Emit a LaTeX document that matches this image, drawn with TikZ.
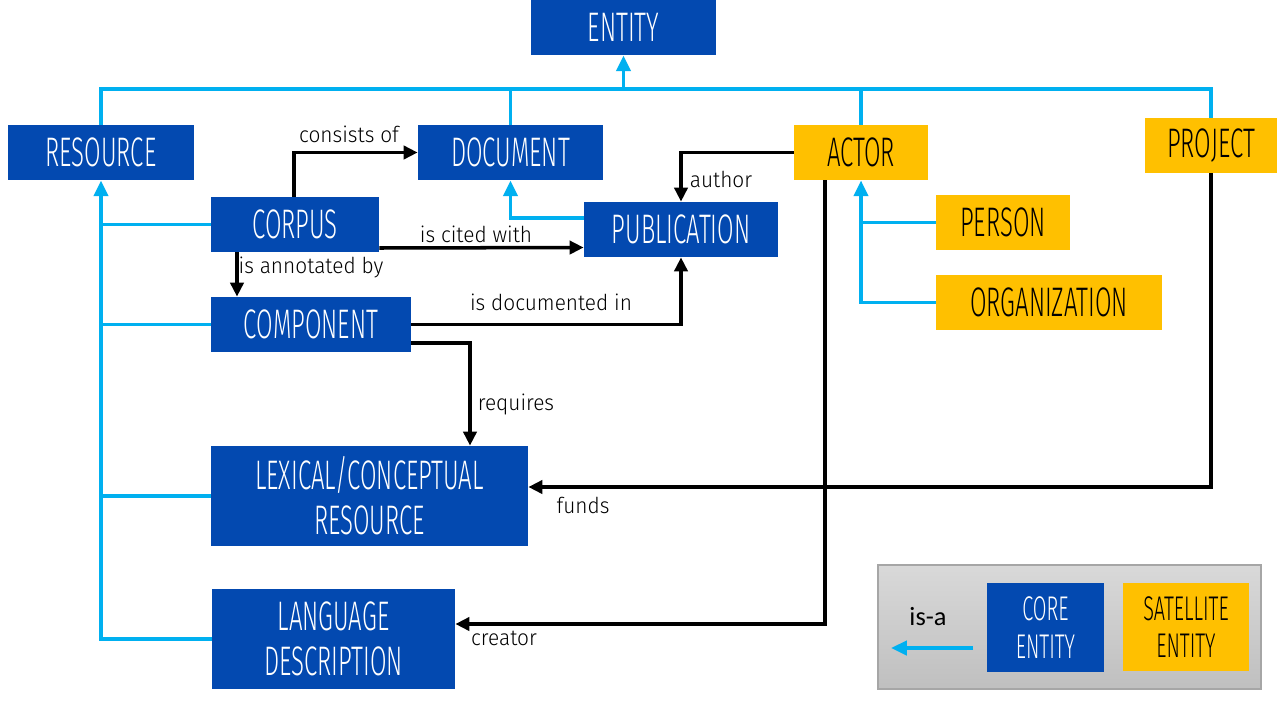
\documentclass[tikz,border=0pt]{standalone}
\usepackage{fontspec}
\setmainfont{Liberation Sans}
\newfontfamily\boxfont[FakeStretch=0.58]{Fira Sans Light}
\newfontfamily\lblfont[FakeStretch=0.95]{Fira Sans Light}
\newfontfamily\legfont{Carlito}
\usetikzlibrary{arrows.meta,calc}
\definecolor{coreblue}{RGB}{3,73,176}
\definecolor{satgold}{RGB}{255,192,0}
\definecolor{isablue}{RGB}{0,176,240}
\tikzset{
  sz/.style 2 args={minimum width=#1*0.02cm, minimum height=#2*0.02cm},
  ent/.style={rectangle, inner sep=0pt, align=center, font=\boxfont\fontsize{23.5}{25.5}\selectfont},
  core/.style={ent, fill=coreblue, text=white},
  sat/.style={ent, fill=satgold, text=black},
  rel/.style={line width=2pt, black, -{Triangle[length=8pt,width=7.5pt]}},
  relline/.style={line width=2pt, black},
  isa/.style={line width=2.2pt, isablue, -{Triangle[length=9pt,width=8pt]}},
  isaline/.style={line width=2.2pt, isablue},
  lbl/.style={anchor=base, inner sep=0pt, font=\lblfont\fontsize{12.5}{14}\selectfont},
}
\begin{document}
\begin{tikzpicture}[x=0.02cm, y=-0.02cm]
\useasboundingbox (0,0) rectangle (1280,720);
\fill[white] (0,0) rectangle (1280,720);

% nodes
\node[core, sz={185}{55}] (entity) at (623.5,27.5) {ENTITY};
\node[core, sz={186}{55}] (resource) at (101,152.5) {RESOURCE};
\node[core, sz={185}{55}] (document) at (510.5,152.5) {DOCUMENT};
\node[sat, sz={134}{55}] (actor) at (861,152.5) {ACTOR};
\node[sat, sz={132}{55}] (project) at (1211,145.5) {PROJECT};
\node[core, sz={168}{55}] (corpus) at (295,224.5) {CORPUS};
\node[core, sz={194}{55}] (publication) at (681,229.5) {PUBLICATION};
\node[sat, sz={134}{55}] (person) at (1003,222.5) {PERSON};
\node[sat, sz={226}{55}] (organization) at (1049,302.5) {ORGANIZATION};
\node[core, sz={200}{55}] (component) at (311,324.5) {COMPONENT};
\node[core, sz={317}{100}] (lexical) at (369.5,496) {LEXICAL/CONCEPTUAL\\RESOURCE};
\node[core, sz={243}{100}] (language) at (333.5,639) {LANGUAGE\\DESCRIPTION};

% is-a hierarchy (top)
\coordinate (top) at (623.5,89);
\draw[isaline] (resource.north) |- (top) -| (project.north);
\draw[isaline] (document.north) -- (document.north |- top);
\draw[isaline] (actor.north) -- (actor.north |- top);
\draw[isa] (top) -- (entity.south);

% is-a left trunk
\draw[isa] (language.west) -| (resource.south);
\draw[isaline] (corpus.west) -- (corpus.west -| resource.south);
\draw[isaline] (component.west) -- (component.west -| resource.south);
\draw[isaline] (lexical.west) -- (lexical.west -| resource.south);

% publication is-a document
\draw[isa] ($(publication.west)+(0,-11.5)$) -| (document.south);

% person / organization is-a actor
\draw[isa] (organization.west) -| (actor.south);
\draw[isaline] (person.west) -- (person.west -| actor.south);

% relations
\draw[rel] ($(corpus.north)+(-1,0)$) |- (document.west);
\node[lbl] (lconsists) at (349,142) {consists of};

\draw[rel] ($(corpus.east)+(0,23.5)$) -- ($(publication.west)+(0,18)$);
\node[lbl] (lcited) at (476,242) {is cited with};

\draw[rel] ($(corpus.south)+(-58,0)$) coordinate (an) -- (an |- component.north);
\node[lbl] (lannot) at (311,273) {is annotated by};

\draw[rel] (component.east) -| (publication.south);
\node[lbl] (ldoc) at (551,310) {is documented in};

\draw[rel] ($(component.east)+(0,18.5)$) -| ($(lexical.north)+(100.5,0)$);
\node[lbl] (lreq) at (516,410) {requires};

\draw[rel] (actor.west) -| (publication.north);
\node[lbl] (lauthor) at (721,187) {author};

\draw[rel] (project.south) |- ($(lexical.east)+(0,-9)$);
\node[lbl] (lfunds) at (583,513) {funds};

\draw[rel] ($(actor.south)+(-36,0)$) |- ($(language.east)+(0,-15)$);
\node[lbl] (lcreator) at (504,645) {creator};

% legend
\node[rectangle, inner sep=0pt, sz={383}{124}, draw=black!35, line width=0.8pt,
      top color=black!15, bottom color=black!25] (legend) at (1069.5,627) {};
\node[core, sz={117}{89}, font=\boxfont\fontsize{19.5}{21.5}\selectfont] (lcore) at (1045.5,627.5) {CORE\\ENTITY};
\node[sat, sz={126}{88}, font=\boxfont\fontsize{19.5}{21.5}\selectfont] (lsat) at (1186,627) {SATELLITE\\ENTITY};
\coordinate (la1) at (973,648);
\coordinate (la2) at (891,648);
\draw[isa] (la1) -- (la2);
\node[anchor=base, inner sep=0pt, font=\legfont\fontsize{15}{18}\selectfont] (lisa) at (928,625) {is-a};
\end{tikzpicture}
\end{document}
